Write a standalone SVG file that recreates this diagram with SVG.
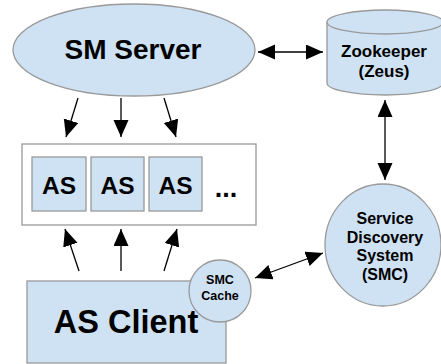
<svg xmlns="http://www.w3.org/2000/svg" width="441" height="364" viewBox="0 0 441 364">
  <style>
    .node { fill: #cfe2f3; stroke: #999999; stroke-width: 1.3; }
    .box { fill: #ffffff; stroke: #999999; stroke-width: 1.3; }
    .lbl { font-family: "Liberation Sans", Arial, sans-serif; font-weight: bold; fill: #000000; text-anchor: middle; }
    .link { stroke: #000000; stroke-width: 1.3; fill: none; }
    .one { marker-end: url(#head); }
    .two { marker-start: url(#head); marker-end: url(#head); }
  </style>
  <defs>
    <marker id="head" markerUnits="userSpaceOnUse" markerWidth="18" markerHeight="16" refX="17" refY="7.5" orient="auto-start-reverse">
      <path d="M0,0 L17,7.5 L0,15 z" fill="#000000"/>
    </marker>
  </defs>
  <rect width="441" height="364" fill="#ffffff"/>

  <g id="sm-server">
    <ellipse class="node" cx="134" cy="50" rx="121" ry="46"/>
    <text class="lbl" x="133" y="59" font-size="28">SM Server</text>
  </g>

  <g id="zookeeper">
    <path class="node" d="M327,22 L327,83 A58,12 0 0 0 443,83 L443,22 A58,12 0 0 0 327,22 Z"/>
    <path class="node" d="M327,22 A58,12 0 0 0 443,22"/>
    <text class="lbl" x="384" y="57" font-size="17">Zookeeper</text>
    <text class="lbl" x="384" y="77" font-size="17">(Zeus)</text>
  </g>

  <g id="as-pool">
    <rect class="box" x="22" y="144" width="234" height="81"/>
    <g id="as-1">
      <rect class="node" x="32" y="157" width="54" height="54"/>
      <text class="lbl" x="59" y="194" font-size="24.5">AS</text>
    </g>
    <g id="as-2">
      <rect class="node" x="91" y="157" width="53" height="54"/>
      <text class="lbl" x="117.5" y="194" font-size="24.5">AS</text>
    </g>
    <g id="as-3">
      <rect class="node" x="149" y="157" width="53" height="54"/>
      <text class="lbl" x="175.5" y="194" font-size="24.5">AS</text>
    </g>
    <text class="lbl" x="226" y="197" font-size="27">...</text>
  </g>

  <g id="as-client">
    <rect class="node" x="27" y="281" width="199" height="82"/>
    <text class="lbl" x="126" y="333" font-size="32.5">AS Client</text>
  </g>

  <g id="smc-cache">
    <circle class="node" cx="220" cy="291" r="31"/>
    <text class="lbl" x="220" y="284" font-size="12.5">SMC</text>
    <text class="lbl" x="220" y="300" font-size="12.5">Cache</text>
  </g>

  <g id="smc">
    <ellipse class="node" cx="383" cy="245" rx="58" ry="61"/>
    <text class="lbl" x="385" y="224" font-size="16">Service</text>
    <text class="lbl" x="385" y="242.5" font-size="16">Discovery</text>
    <text class="lbl" x="385" y="261" font-size="16">System</text>
    <text class="lbl" x="385" y="279.5" font-size="16">(SMC)</text>
  </g>

  <g id="connectors">
    <line class="link two" x1="258" y1="52" x2="323" y2="52"/>
    <line class="link two" x1="385" y1="100" x2="385" y2="180"/>
    <line class="link two" x1="255" y1="278" x2="323" y2="253"/>
    <line class="link one" x1="78" y1="98" x2="66" y2="137"/>
    <line class="link one" x1="121" y1="98" x2="121" y2="137"/>
    <line class="link one" x1="164" y1="98" x2="176" y2="137"/>
    <line class="link one" x1="79" y1="271" x2="65" y2="229"/>
    <line class="link one" x1="121" y1="271" x2="121" y2="229"/>
    <line class="link one" x1="164" y1="271" x2="177" y2="229"/>
  </g>
</svg>
